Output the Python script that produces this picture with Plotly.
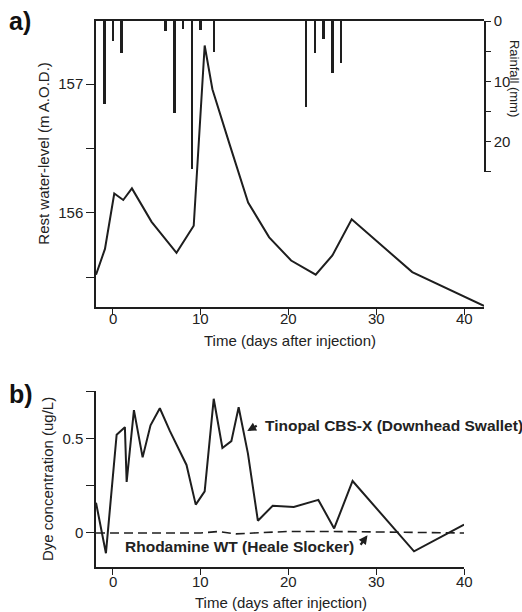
import plotly.graph_objects as go

# ---- data ----
rain_day = [-1, 0, 1, 6, 7, 8, 9, 10, 11.5, 22, 23, 24, 25, 26]
rain_mm = [13.7, 3.3, 5.3, 1.7, 15.2, 1.4, 24.6, 1.5, 5.2, 14.2, 5.3, 3.0, 8.7, 6.9]

level_day = [-1.93, -0.91, 0.15, 1.17, 2.16, 4.4, 7.24, 9.2, 10.45, 11.33, 13.3,
             15.4, 17.8, 20.3, 23.1, 25.0, 27.2, 34.1, 42.5]
level_m = [155.52, 155.72, 156.15, 156.10, 156.19, 155.93, 155.69, 155.90, 157.30,
           156.96, 156.53, 156.08, 155.81, 155.63, 155.52, 155.67, 155.95, 155.54, 155.27]

tino_day = [-1.93, -0.8, 0.42, 1.36, 1.56, 2.39, 3.38, 4.28, 5.34, 6.48, 8.38, 9.43,
            10.45, 11.48, 12.47, 13.49, 14.32, 15.38, 16.51, 18.2, 20.6, 23.4, 25.2,
            27.3, 34.3, 40.0]
tino_c = [0.16, -0.107, 0.52, 0.56, 0.27, 0.65, 0.40, 0.57, 0.66, 0.54, 0.36, 0.15,
          0.22, 0.71, 0.45, 0.486, 0.665, 0.42, 0.065, 0.144, 0.138, 0.175, 0.024,
          0.275, -0.097, 0.044]

rhod_day = [-1.93, 0, 5, 8, 10, 12, 14, 16, 20, 25, 30, 35, 40]
rhod_c = [0.0, 0.0, 0.0, 0.0, 0.0, 0.008, -0.005, 0.0, 0.008, 0.008, 0.004, 0.0, 0.0]

level_ticks = [155.5, 156, 156.5, 157]
level_ticktext = ["", "156", "", "157"]
rain_ticks = [0, 5, 10, 15, 20, 25]
rain_ticktext = ["0", "", "10", "", "20", ""]
dye_ticks = [0, 0.25, 0.5, 0.75]
dye_ticktext = ["0", "", "0.5", ""]
day_ticks = [0, 10, 20, 30, 40]

# ---- layout geometry (pixels) ----
W, H = 522, 612
L, R, T, B = 96, 485, 15, 567


def px(x):
    return (x - L) / (R - L)


def py(y):
    return (B - y) / (B - T)


INK = "#1e1e1e"
FONT = "Liberation Sans, Arial, sans-serif"
FS = 15

fig = go.Figure()

fig.add_trace(go.Bar(x=rain_day, y=rain_mm, width=0.3, marker=dict(color=INK, line_width=0),
                     xaxis="x", yaxis="y3", showlegend=False))
fig.add_trace(go.Scatter(x=level_day, y=level_m, mode="lines", line=dict(color=INK, width=2),
                         xaxis="x", yaxis="y", showlegend=False))
fig.add_trace(go.Scatter(x=tino_day, y=tino_c, mode="lines", line=dict(color=INK, width=2),
                         xaxis="x2", yaxis="y2", showlegend=False))
fig.add_trace(go.Scatter(x=rhod_day, y=rhod_c, mode="lines",
                         line=dict(color=INK, width=1.6, dash="9px,5px"),
                         xaxis="x2", yaxis="y2", showlegend=False))

axis_common = dict(showgrid=False, zeroline=False, showline=True, linecolor=INK, linewidth=1.5,
                   ticks="outside", tickcolor=INK, tickwidth=1.3,
                   tickfont=dict(family=FONT, size=FS, color="#222"))

blank = ["", "", "", "", ""]
x0 = (L - 113) / 8.8
fig.update_layout(
    width=W, height=H,
    margin=dict(l=L, r=W - R, t=T, b=H - B),
    paper_bgcolor="white", plot_bgcolor="rgba(0,0,0,0)",
    bargap=0,
    xaxis=dict(domain=[0, 1], range=[x0, (R - 113) / 8.8], anchor="y", mirror=True,
               tickvals=day_ticks, ticktext=blank, ticklen=6, **axis_common),
    yaxis=dict(domain=[py(304), 1], range=[155.27, 157.49], anchor="x",
               tickvals=level_ticks, ticktext=level_ticktext, ticklen=8, **axis_common),
    yaxis3=dict(domain=[py(167.5), 1], range=[25, 0], anchor="x", side="right",
                tickvals=rain_ticks, ticktext=rain_ticktext, ticklen=5, **axis_common),
    xaxis2=dict(domain=[0, px(465)], range=[x0, 40], anchor="y2",
                tickvals=day_ticks, ticktext=blank, ticklen=6, **axis_common),
    yaxis2=dict(domain=[0, py(389.3)], range=[-0.18, 0.75], anchor="x2",
                tickvals=dye_ticks, ticktext=dye_ticktext, ticklen=8, **axis_common),
)

txt = dict(family=FONT, size=FS, color="#222")
C = dict(xanchor="center", yanchor="middle", showarrow=False)

# x tick labels (placed as text below each axis)
annots = []
for d in day_ticks:
    annots.append(dict(x=d, y=py(316), xref="x", yref="paper", text=str(d), font=txt, **C))
    annots.append(dict(x=d, y=py(582), xref="x2", yref="paper", text=str(d), font=txt, **C))

bold = dict(family=FONT, size=15.5, color="#222")
annots += [
    dict(x=px(290), y=py(338), xref="paper", yref="paper", text="Time (days after injection)",
         font=txt, **C),
    dict(x=px(281), y=py(603), xref="paper", yref="paper", text="Time (days after injection)",
         font=txt, **C),
    dict(x=px(43), y=py(149), xref="paper", yref="paper", text="Rest water-level (m A.O.D.)",
         textangle=-90, font=txt, **C),
    dict(x=px(48), y=py(478), xref="paper", yref="paper", text="Dye concentration (ug/L)",
         textangle=-90, font=txt, **C),
    dict(x=px(515.5), y=py(73), xref="paper", yref="paper", text="Rainfall (mm)",
         textangle=90, font=dict(family=FONT, size=13, color="#222"), **C),
    dict(x=px(20), y=py(15), xref="paper", yref="paper", text="<b>a)</b>",
         font=dict(family=FONT, size=25, color="#111"), **C),
    dict(x=px(21), y=py(392), xref="paper", yref="paper", text="<b>b)</b>",
         font=dict(family=FONT, size=25, color="#111"), **C),
    dict(x=px(263), y=py(424), xref="paper", yref="paper", text="<b>Tinopal CBS-X (Downhead Swallet)</b>",
         xanchor="left", yanchor="middle", showarrow=False, font=bold),
    dict(x=px(357), y=py(546), xref="paper", yref="paper", text="<b>Rhodamine WT (Heale Slocker)</b>",
         xanchor="right", yanchor="middle", showarrow=False, font=bold),
    dict(x=15.3, y=0.54, xref="x2", yref="y2", ax=11, ay=-6, text="", showarrow=True,
         arrowhead=2, arrowsize=0.8, arrowwidth=2.2, arrowcolor=INK),
    dict(x=29.0, y=-0.012, xref="x2", yref="y2", ax=-8, ay=11, text="", showarrow=True,
         arrowhead=2, arrowsize=0.8, arrowwidth=2.2, arrowcolor=INK),
]
fig.update_layout(annotations=annots)

fig.write_html("out.html")
